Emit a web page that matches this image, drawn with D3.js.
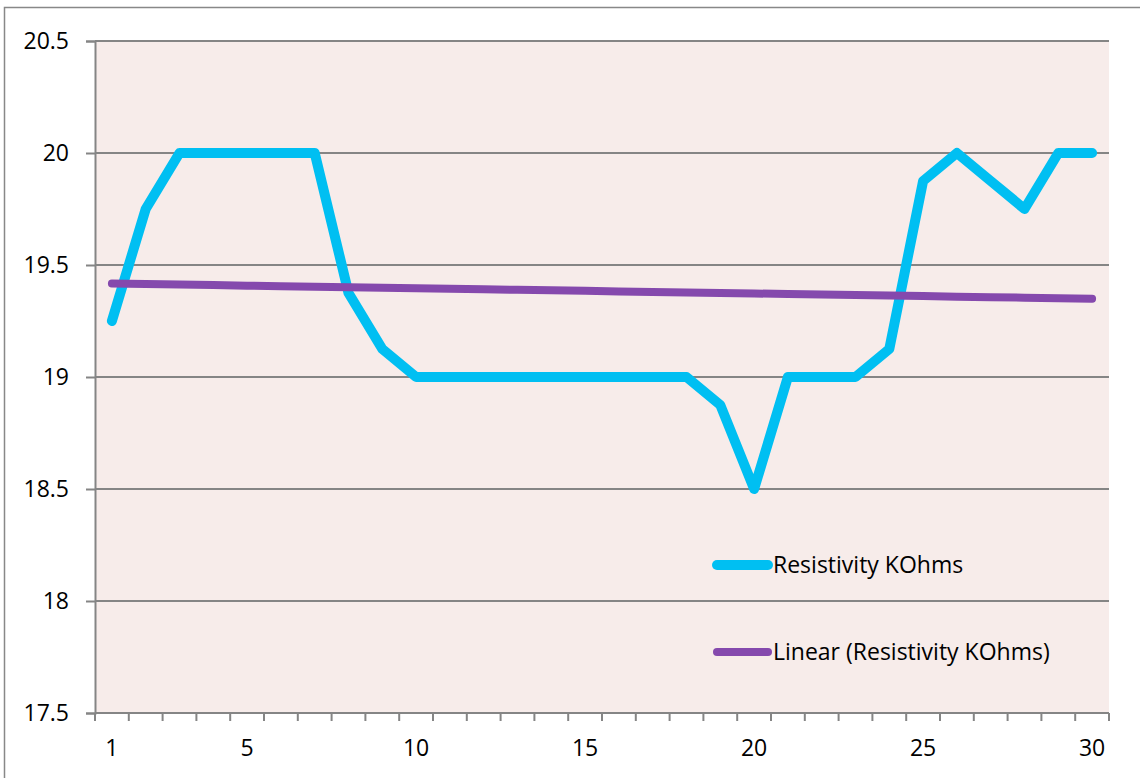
<!DOCTYPE html>
<html>
<head>
<meta charset="utf-8">
<script src="https://cdn.jsdelivr.net/npm/d3@7"></script>
<style>
  html, body { margin: 0; padding: 0; background: #fff; }
  svg { display: block; }
  text { font-family: "Open Sans", Lato, sans-serif; fill: #000; }
</style>
</head>
<body>
<svg id="chart" width="1140" height="778"></svg>
<script>
// ---- data ----
const categories = d3.range(1, 31);
const resistivity = [19.25, 19.75, 20, 20, 20, 20, 20, 19.375, 19.125, 19,
                     19, 19, 19, 19, 19, 19, 19, 19, 18.875, 18.5,
                     19, 19, 19, 19.125, 19.875, 20, 19.875, 19.75, 20, 20];
const yTicks = [17.5, 18, 18.5, 19, 19.5, 20, 20.5];
const xTickLabels = [1, 5, 10, 15, 20, 25, 30];
const seriesNames = ["Resistivity KOhms", "Linear (Resistivity KOhms)"];

// linear trendline (least squares)
const n = categories.length;
const mx = d3.mean(categories), my = d3.mean(resistivity);
const slope = d3.sum(categories, (x, i) => (x - mx) * (resistivity[i] - my)) /
              d3.sum(categories, x => (x - mx) * (x - mx));
const intercept = my - slope * mx;
const trend = categories.map(x => intercept + slope * x);

// ---- layout ----
const svg = d3.select("#chart");
const plot = { left: 95, right: 1109, top: 41, bottom: 713 };
const FONT = "'Open Sans', Lato, sans-serif";
const FS = 23;

// outer chart border
svg.append("rect").attr("x", 4.5).attr("y", 7.5).attr("width", 1200).attr("height", 900)
  .attr("fill", "#fff").attr("stroke", "#888").attr("stroke-width", 1.5);

const x = d3.scaleBand().domain(categories).range([plot.left, plot.right]).padding(0);
const y = d3.scaleLinear().domain([17.5, 20.5]).range([plot.bottom, plot.top]);
const cx = d => x(d) + x.bandwidth() / 2;

// plot background
svg.append("rect").attr("x", plot.left).attr("y", plot.top)
  .attr("width", plot.right - plot.left).attr("height", plot.bottom - plot.top)
  .attr("fill", "#f7ecea");

// gridlines
svg.append("g").selectAll("line").data(yTicks.filter(t => t > 17.5)).join("line")
  .attr("x1", plot.left).attr("x2", plot.right)
  .attr("y1", d => y(d)).attr("y2", d => y(d))
  .attr("stroke", "#858585").attr("stroke-width", 2);

// y axis
const yAxis = d3.axisLeft(y).tickValues(yTicks).tickSize(9).tickPadding(17)
  .tickFormat(d => d3.format("")(d));
const gy = svg.append("g").attr("transform", `translate(${plot.left},0)`).call(yAxis);
gy.select(".domain").attr("stroke", "#858585").attr("stroke-width", 2);
gy.selectAll(".tick line").attr("stroke", "#858585").attr("stroke-width", 2);
gy.selectAll(".tick text").attr("font-size", FS).attr("font-family", FONT).attr("fill", "#000");

// x axis: ticks at band boundaries
const boundaries = d3.range(0, n + 1).map(i => plot.left + i * x.bandwidth());
svg.append("line").attr("x1", plot.left).attr("x2", plot.right)
  .attr("y1", plot.bottom).attr("y2", plot.bottom)
  .attr("stroke", "#858585").attr("stroke-width", 2);
svg.append("g").selectAll("line").data(boundaries).join("line")
  .attr("x1", d => d).attr("x2", d => d)
  .attr("y1", plot.bottom).attr("y2", plot.bottom + 8)
  .attr("stroke", "#858585").attr("stroke-width", 2);
svg.append("g").selectAll("text").data(xTickLabels).join("text")
  .attr("x", d => cx(d)).attr("y", 756)
  .attr("text-anchor", "middle").attr("font-size", FS)
  .text(d => d);

// series line
const line = d3.line().x((d, i) => cx(categories[i])).y(d => y(d));
svg.append("path").datum(resistivity).attr("d", line)
  .attr("fill", "none").attr("stroke", "#00bff2").attr("stroke-width", 10)
  .attr("stroke-linejoin", "round").attr("stroke-linecap", "round");

// trend line
svg.append("path").datum(trend).attr("d", line)
  .attr("fill", "none").attr("stroke", "#8549ad").attr("stroke-width", 8)
  .attr("stroke-linecap", "round");

// legend
const legend = [
  { name: seriesNames[0], color: "#00bff2", w: 10, y: 565 },
  { name: seriesNames[1], color: "#8549ad", w: 8, y: 652 }
];
const lg = svg.append("g").selectAll("g").data(legend).join("g");
lg.append("line").attr("x1", 717).attr("x2", 768)
  .attr("y1", d => d.y).attr("y2", d => d.y)
  .attr("stroke", d => d.color).attr("stroke-width", d => d.w).attr("stroke-linecap", "round");
lg.append("text").attr("x", 773).attr("y", d => d.y + 8)
  .attr("font-size", FS).text(d => d.name);
</script>
</body>
</html>
